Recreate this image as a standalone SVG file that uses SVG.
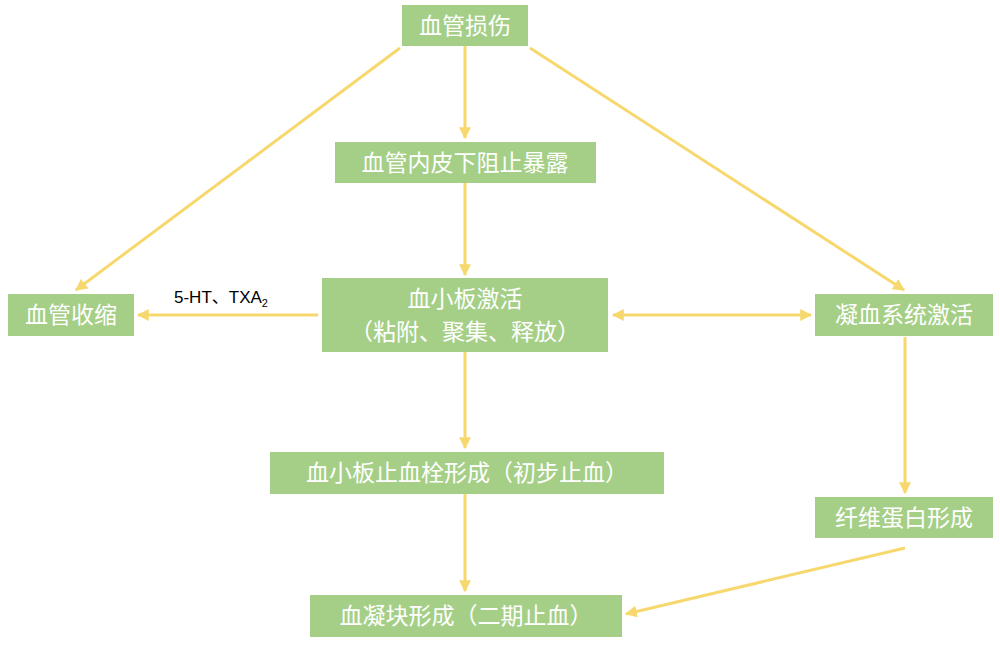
<svg xmlns="http://www.w3.org/2000/svg" width="1000" height="647" viewBox="0 0 1000 647">
<defs>
<style>
.n rect{fill:#a5cf87}
.n text{fill:#fff;font-family:"Liberation Sans","Noto Sans CJK SC",sans-serif;font-size:23px;text-anchor:middle}
.c line{stroke:#f7d86f;stroke-width:3}
</style>
<marker id="a" viewBox="0 0 10 10" refX="9" refY="5" markerWidth="4" markerHeight="4" orient="auto-start-reverse"><path d="M0,0L10,5L0,10z" fill="#f7d86f"/></marker>
</defs>
<rect width="1000" height="647" fill="#fff"/>
<g class="c">
<line x1="465" y1="46" x2="465" y2="138" marker-end="url(#a)"/>
<line x1="400" y1="48" x2="76" y2="290" marker-end="url(#a)"/>
<line x1="530" y1="48" x2="904" y2="290" marker-end="url(#a)"/>
<line x1="465" y1="183" x2="465" y2="275" marker-end="url(#a)"/>
<line x1="318" y1="315" x2="138" y2="315" marker-end="url(#a)"/>
<line x1="613" y1="315" x2="811" y2="315" marker-start="url(#a)" marker-end="url(#a)"/>
<line x1="465" y1="352" x2="465" y2="448" marker-end="url(#a)"/>
<line x1="905" y1="337" x2="905" y2="493" marker-end="url(#a)"/>
<line x1="465" y1="494" x2="465" y2="591" marker-end="url(#a)"/>
<line x1="905" y1="548" x2="626" y2="614" marker-end="url(#a)"/>
</g>
<text x="174" y="303" font-family="Liberation Sans,Noto Sans CJK SC,sans-serif" font-size="17" fill="#000">5-HT、TXA<tspan font-size="11" dy="4">2</tspan></text>
<g id="n1" class="n"><rect x="402" y="5" width="126" height="41"/><text x="465" y="34">血管损伤</text></g>
<g id="n2" class="n"><rect x="335" y="142" width="261" height="41"/><text x="465" y="171">血管内皮下阻止暴露</text></g>
<g id="n3" class="n"><rect x="8" y="294" width="126" height="42"/><text x="71" y="323">血管收缩</text></g>
<g id="n4" class="n"><rect x="322" y="278" width="286" height="74"/><text x="465" y="307">血小板激活</text><text x="465" y="340">（粘附、聚集、释放）</text></g>
<g id="n5" class="n"><rect x="815" y="294" width="178" height="42"/><text x="904" y="323">凝血系统激活</text></g>
<g id="n6" class="n"><rect x="270" y="452" width="394" height="42"/><text x="467" y="481">血小板止血栓形成（初步止血）</text></g>
<g id="n7" class="n"><rect x="815" y="497" width="178" height="41"/><text x="904" y="526">纤维蛋白形成</text></g>
<g id="n8" class="n"><rect x="310" y="595" width="312" height="42"/><text x="466" y="624">血凝块形成（二期止血）</text></g>
</svg>
